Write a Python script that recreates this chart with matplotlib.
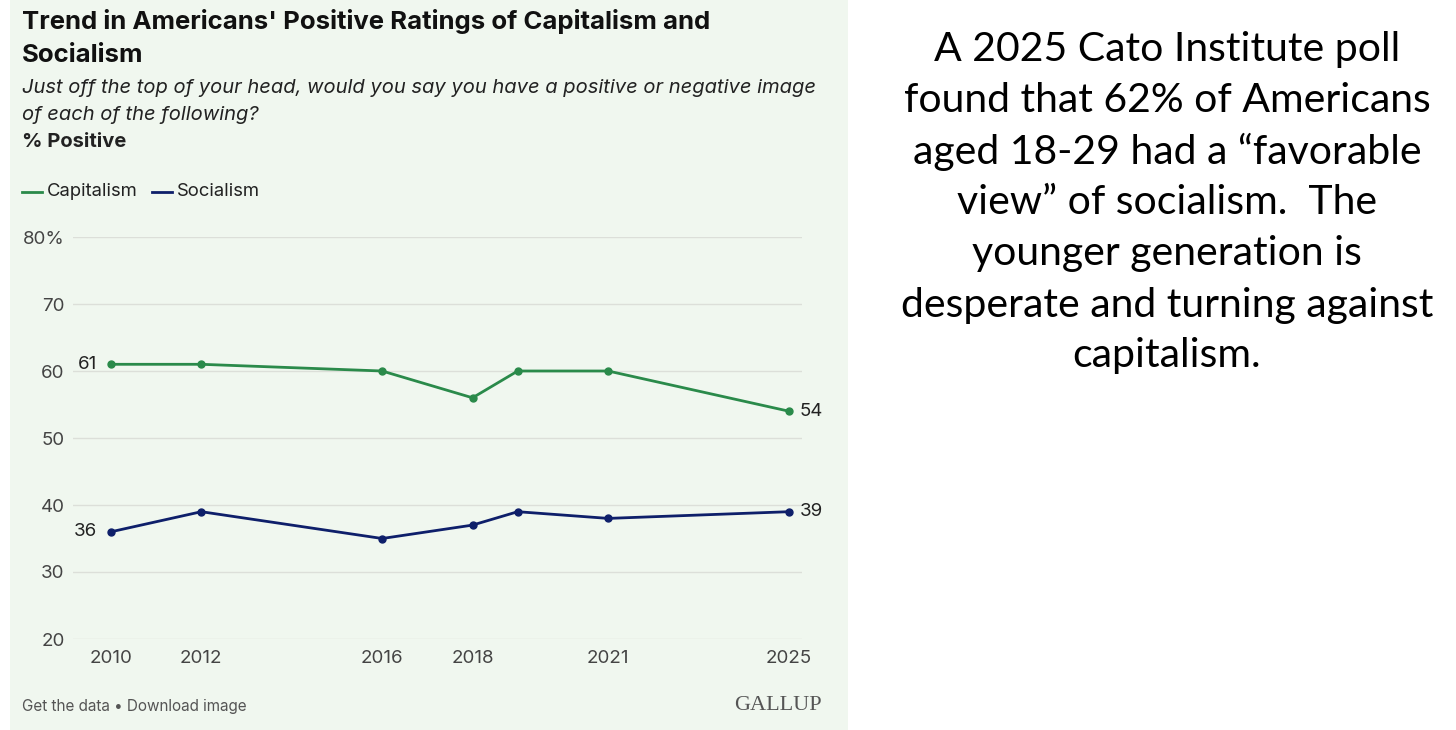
import matplotlib
matplotlib.use("Agg")
from matplotlib import pyplot as plt
from matplotlib.patches import Rectangle
from matplotlib.lines import Line2D

# Data
years = [2010, 2012, 2016, 2018, 2019, 2021, 2025]
capitalism = [61, 61, 60, 56, 60, 60, 54]
socialism = [36, 39, 35, 37, 39, 38, 39]
year_ticks = [2010, 2012, 2016, 2018, 2021, 2025]
y_ticks = [20, 30, 40, 50, 60, 70, 80]
y_labels = ['20', '30', '40', '50', '60', '70', '80%']

GREEN = '#2a8a4a'
NAVY = '#0e1f6a'
BG = '#f0f7ef'
W, H = 1456, 730

fig = plt.figure(figsize=(W / 100, H / 100), dpi=100)
fig.patch.set_facecolor('white')

# light green panel behind the chart
fig.add_artist(Rectangle((10 / W, 0), 838 / W, 1, transform=fig.transFigure,
                         facecolor=BG, edgecolor='none', zorder=0))

ax = fig.add_axes([73 / W, 1 - 639 / H, (802 - 73) / W, (639 - 237) / H])
ax.set_facecolor('none')
ax.set_xlim(2009.16, 2025.29)
ax.set_ylim(20, 80)

ax.plot(years, capitalism, color=GREEN, lw=2, marker='o', ms=5, zorder=3)
ax.plot(years, socialism, color=NAVY, lw=2, marker='o', ms=5, zorder=3)

# end labels
def end_label(x, y, left):
    ax.annotate(str(y), (x, y), xytext=(-10 if left else 8, 0),
                textcoords='offset points', ha='right' if left else 'left',
                va='center', fontsize=13.5, family='Inter', color='#222222')

end_label(years[0], capitalism[0], True)
end_label(years[0], socialism[0], True)
end_label(years[-1], capitalism[-1], False)
end_label(years[-1], socialism[-1], False)

ax.set_yticks(y_ticks)
ax.set_yticklabels(y_labels)
ax.set_xticks(year_ticks)
ax.set_xticklabels([str(y) for y in year_ticks])
ax.grid(axis='y', color='#dcdfd9', lw=1)
ax.set_axisbelow(True)
for s in ax.spines.values():
    s.set_visible(False)
ax.tick_params(length=0, labelsize=13.5, colors='#444444', pad=8)
ax.tick_params(axis='y', pad=6)
for lbl in ax.get_xticklabels() + ax.get_yticklabels():
    lbl.set_family('Inter')

# header text
fig.text(22 / W, 1 - 22 / H, "Trend in Americans' Positive Ratings of Capitalism and",
         fontsize=18.5, weight='bold', family='Inter', va='center', color='#111111')
fig.text(22 / W, 1 - 56 / H, "Socialism",
         fontsize=18.5, weight='bold', family='Inter', va='center', color='#111111')
fig.text(22 / W, 1 - 88 / H,
         "Just off the top of your head, would you say you have a positive or negative image",
         fontsize=14.5, style='italic', family='Inter', va='center', color='#222222')
fig.text(22 / W, 1 - 115 / H, "of each of the following?",
         fontsize=14.5, style='italic', family='Inter', va='center', color='#222222')
fig.text(22 / W, 1 - 142 / H, "% Positive",
         fontsize=14.5, weight='bold', family='Inter', va='center', color='#222222')

# legend
fig.add_artist(Line2D([22 / W, 42 / W], [1 - 192 / H] * 2, color=GREEN, lw=2))
fig.text(47 / W, 1 - 192 / H, "Capitalism", fontsize=13.3, family='Inter',
         va='center', color='#222222')
fig.add_artist(Line2D([152 / W, 172 / W], [1 - 192 / H] * 2, color=NAVY, lw=2))
fig.text(177 / W, 1 - 192 / H, "Socialism", fontsize=13.3, family='Inter',
         va='center', color='#222222')

# footer
fig.text(22 / W, 1 - 706 / H, "Get the data \u2022 Download image", fontsize=11,
         family='Inter', va='center', color='#555555')
fig.text(822 / W, 1 - 706 / H, "GALLUP", fontsize=16, family='Liberation Serif',
         va='center', ha='right', color='#555555')

# commentary on the right
comment = ["A 2025 Cato Institute poll",
           "found that 62% of Americans",
           "aged 18-29 had a \u201cfavorable",
           "view\u201d of socialism.  The",
           "younger generation is",
           "desperate and turning against",
           "capitalism."]
for i, line in enumerate(comment):
    fig.text(1167 / W, 1 - (50 + 51 * i) / H, line, fontsize=29.5, family='Lato',
             ha='center', va='center', color='black')

fig.savefig('out.png', dpi=100, facecolor=fig.get_facecolor())
